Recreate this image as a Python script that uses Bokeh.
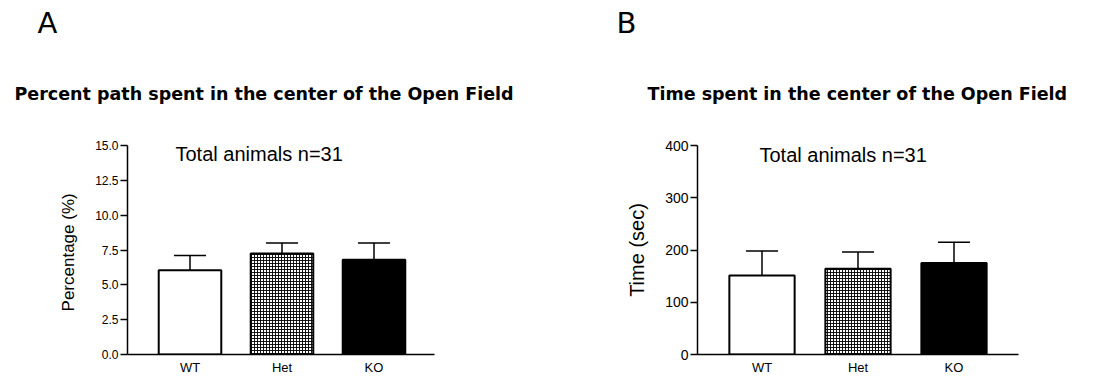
from bokeh.plotting import figure
from bokeh.layouts import row
from bokeh.models import (Range1d, FixedTicker, NumeralTickFormatter, Label, Whisker,
                          ColumnDataSource, TeeHead, Title)
from bokeh.embed import file_html
from bokeh.resources import INLINE

# ---- data ----
categories = ["WT", "Het", "KO"]
pct_mean = [6.05, 7.25, 6.8]
pct_upper = [7.1, 8.0, 8.0]
time_mean = [151, 164, 175]
time_upper = [198, 196, 215]
pct_ticks = [0, 2.5, 5.0, 7.5, 10.0, 12.5, 15.0]
time_ticks = [0, 100, 200, 300, 400]
titles = ["Percent path spent in the center of the Open Field",
          "Time spent in the center of the Open Field"]
letters = ["A", "B"]
ylabels = ["Percentage  (%)", "Time (sec)"]
note = "Total animals n=31"

xs = [i + 1 for i in range(len(categories))]
fills = ["white", "white", "black"]
hatches = [" ", "cross", " "]

TICK_FONT = "Liberation Sans"
H = 377


def make_panel(means, uppers, ticks, ymax, fmt, width, left, frame_w, top, frame_h,
               pad_left, pad_right, letter, title, ylabel, ylabel_size, tick_size,
               letter_x, title_x, note_x, note_y, cap):
    x0 = 1 - pad_left
    x1 = 3 + pad_right
    p = figure(width=width, height=H, output_backend="svg", toolbar_location=None,
               x_range=Range1d(x0, x1), y_range=Range1d(0, ymax),
               min_border_left=left, min_border_right=width - left - frame_w,
               min_border_top=top, min_border_bottom=H - top - frame_h)
    p.outline_line_color = None
    p.grid.visible = False
    p.background_fill_color = "white"
    src = ColumnDataSource(dict(x=xs, top=means, upper=uppers, fill=fills, hatch=hatches))
    p.vbar(x="x", top="top", width=0.68, bottom=0, source=src, fill_color="fill",
           line_color="black", line_width=2, hatch_pattern="hatch", hatch_color="black",
           hatch_scale=3, hatch_weight=1, hatch_alpha=0.9)
    w = Whisker(base="x", lower="top", upper="upper", source=src, dimension="height",
                line_color="black", line_width=1.5,
                upper_head=TeeHead(size=cap, line_color="black", line_width=1.5),
                lower_head=None)
    p.add_layout(w)

    # axes
    p.xaxis.ticker = FixedTicker(ticks=xs)
    p.xaxis.major_label_overrides = {x: c for x, c in zip(xs, categories)}
    p.xaxis.major_tick_out = 0
    p.xaxis.major_tick_in = 0
    p.xaxis.minor_tick_out = 0
    p.xaxis.minor_tick_in = 0
    p.xaxis.major_label_standoff = 5
    p.xaxis.major_label_text_font = TICK_FONT
    p.xaxis.major_label_text_font_size = "13px"
    p.xaxis.major_label_text_color = "black"
    p.xaxis.axis_line_width = 1.5
    p.xaxis.axis_line_color = "black"

    p.yaxis.ticker = FixedTicker(ticks=ticks)
    p.yaxis.formatter = NumeralTickFormatter(format=fmt)
    p.yaxis.major_tick_out = 7
    p.yaxis.major_tick_in = 0
    p.yaxis.minor_tick_out = 0
    p.yaxis.minor_tick_in = 0
    p.yaxis.major_tick_line_width = 1.5
    p.yaxis.major_label_standoff = 2
    p.yaxis.major_label_text_font = TICK_FONT
    p.yaxis.major_label_text_font_size = tick_size
    p.yaxis.major_label_text_color = "black"
    p.yaxis.axis_line_width = 1.5
    p.yaxis.axis_line_color = "black"
    p.yaxis.axis_label = ylabel
    p.yaxis.axis_label_text_font = TICK_FONT
    p.yaxis.axis_label_text_font_style = "normal"
    p.yaxis.axis_label_text_font_size = ylabel_size
    p.yaxis.axis_label_text_color = "black"
    p.yaxis.axis_label_standoff = 14

    def dx(px):
        return x0 + px * (x1 - x0) / frame_w

    def dy(py):
        return py * ymax / float(frame_h)

    p.add_layout(Label(x=dx(note_x), y=dy(note_y), text=note, text_font=TICK_FONT,
                       text_font_size="20px", text_color="black",
                       text_baseline="alphabetic"))
    p.add_layout(Title(text=title, align="left", offset=title_x, standoff=84,
                       text_font="DejaVu Sans", text_font_style="bold",
                       text_font_size="17.5px", text_color="black"), "above")
    p.add_layout(Title(text=letter, align="left", offset=letter_x, standoff=0,
                       text_font="DejaVu Sans", text_font_style="normal",
                       text_font_size="29px", text_color="black"), "above")
    return p


pa = make_panel(pct_mean, pct_upper, pct_ticks, 15, "0.0", 555, 127, 307, 145, 212,
                62.5 / 92, 60.5 / 92, letters[0], titles[0], ylabels[0], "17px", "12px",
                37 - 127, 14 - 127, 175 - 127, 203, 32)
pb = make_panel(time_mean, time_upper, time_ticks, 400, "0", 539, 142, 321, 144, 212,
                64.5 / 96, 64.5 / 96, letters[1], titles[1], ylabels[1], "20px", "14px",
                616 - 697, 647 - 697, 759 - 697, 202, 32)

layout = row(pa, pb)
open("out.html", "w").write(file_html(layout, INLINE))
